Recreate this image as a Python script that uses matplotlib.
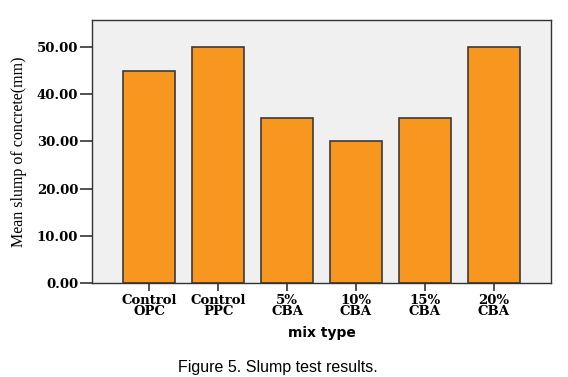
import matplotlib.pyplot as plt

# mean slump per mix
mix_types = ["Control\nOPC", "Control\nPPC", "5%\nCBA", "10%\nCBA", "15%\nCBA", "20%\nCBA"]
slump = [45.0, 50.0, 35.0, 30.0, 35.0, 50.0]
y_ticks = [0, 10, 20, 30, 40, 50]

fig = plt.figure(figsize=(5.68, 3.77), dpi=100)
ax = fig.add_axes([92 / 568, 1 - 283 / 377, 459 / 568, 263 / 377])
ax.set_facecolor("#f0f0f0")

x = range(len(mix_types))
ax.bar(x, slump, width=0.75, color="#f7971f", edgecolor="#3a3a3a", linewidth=1.2, zorder=2)

ax.set_xlim(-0.83, 5.83)
ax.set_ylim(0, 55.7)
ax.set_xticks(list(x))
ax.set_xticklabels(mix_types, fontfamily="DejaVu Serif", fontweight="bold",
                   fontsize=9.5, linespacing=0.8)
ax.set_yticks(y_ticks)
ax.set_yticklabels(["{:.2f}".format(v) for v in y_ticks], fontfamily="DejaVu Serif",
                   fontweight="bold", fontsize=9.5)
ax.tick_params(axis="y", length=9, width=1.2, color="#333333", pad=1)
ax.tick_params(axis="x", length=6, width=1.2, color="#333333", pad=2)
for side in ax.spines.values():
    side.set_color("#333333")
    side.set_linewidth(1.0)

ax.set_ylabel("Mean slump of concrete(mm)", fontfamily="Liberation Serif",
              fontsize=11.5, labelpad=7)
ax.set_xlabel("mix type", fontfamily="DejaVu Sans", fontweight="bold", fontsize=10, labelpad=6)

fig.text(0.49, 0.012, "Figure 5. Slump test results.",
         fontfamily="Liberation Sans", fontsize=11.5, ha="center")

fig.savefig("out.png", dpi=100)
